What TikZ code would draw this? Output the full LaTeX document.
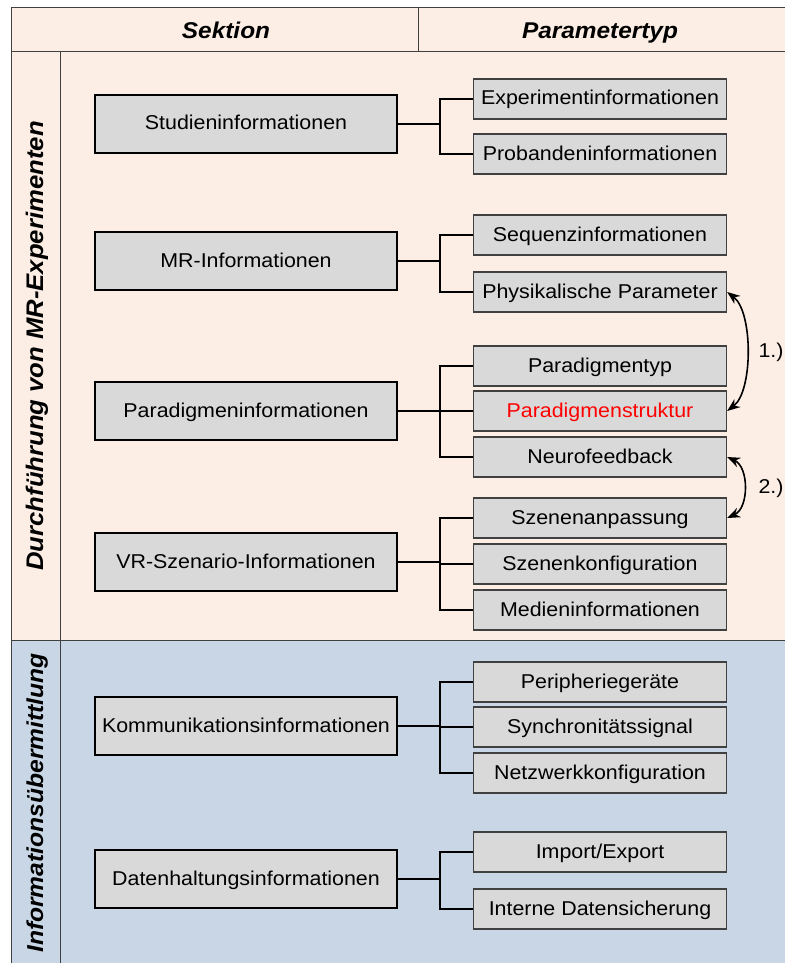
\documentclass[tikz,border=0pt]{standalone}
\usepackage{fontspec}
\setmainfont[FakeStretch=1.07]{Liberation Sans}
\usetikzlibrary{arrows.meta}
\definecolor{peach}{HTML}{FCEEE4}
\definecolor{bluebg}{HTML}{C9D6E6}
\definecolor{boxgray}{HTML}{D9D9D9}
\definecolor{framec}{HTML}{404040}
\tikzset{
  secbox/.style={draw=black, line width=1.8pt, fill=boxgray, minimum width=302pt, minimum height=58pt, inner sep=0pt, text height=16pt, text depth=4pt, font=\fontsize{20}{24}\selectfont},
  parbox/.style={draw=black!75, line width=1.3pt, fill=boxgray, minimum width=253pt, minimum height=40pt, inner sep=0pt, text height=16pt, text depth=4pt, font=\fontsize{20}{24}\selectfont},
  conn/.style={draw=black, line width=1.8pt},
  hdr/.style={font=\fontsize{22.8}{28}\selectfont\bfseries\itshape},
  vhdr/.style={font=\fontsize{24}{28}\selectfont\bfseries\itshape},
  dbl/.style={draw=black, line width=1.6pt, {Stealth[length=13pt,width=10pt]}-{Stealth[length=13pt,width=10pt]}},
  lbl/.style={font=\fontsize{20}{24}\selectfont}
}
\begin{document}
\begin{tikzpicture}[x=1pt,y=-1pt]
\useasboundingbox (0,0) rectangle (785,963);
\fill[white] (0,0) rectangle (785,963);
% backgrounds
\fill[peach] (11,8) rectangle (785,640);
\fill[bluebg] (11,640) rectangle (785,963);
% frame lines
\draw[framec, line width=1pt] (785,8) -- (11,8) -- (11,963);
\draw[framec, line width=1pt] (11,52) -- (785,52);
\draw[framec, line width=1pt] (418,8) -- (418,52);
\draw[framec, line width=1pt] (60,52) -- (60,963);
\draw[framec, line width=1pt] (11,640) -- (785,640);
% headers
\node[hdr, anchor=base] (h1) at (226,38.5) {Sektion};
\node[hdr, anchor=base] (h2) at (600,38.5) {Parametertyp};
\node[vhdr, rotate=90, anchor=base] (v1) at (43,346) {Durchführung von MR-Experimenten};
\node[vhdr, rotate=90, anchor=base, font=\fontsize{23}{28}\selectfont\bfseries\itshape] (v2) at (43,803) {Informationsübermittlung};
% section boxes
\node[secbox] (S1) at (246,124) {Studieninformationen};
\node[secbox] (S2) at (246,261) {MR-Informationen};
\node[secbox] (S3) at (246,411) {Paradigmeninformationen};
\node[secbox] (S4) at (246,562) {VR-Szenario-Informationen};
\node[secbox] (S5) at (246,726) {Kommunikationsinformationen};
\node[secbox] (S6) at (246,879) {Datenhaltungsinformationen};
% parameter boxes
\node[parbox] (P1) at (600,99) {Experimentinformationen};
\node[parbox] (P2) at (600,154) {Probandeninformationen};
\node[parbox] (P3) at (600,235) {Sequenzinformationen};
\node[parbox] (P4) at (600,292) {Physikalische Parameter};
\node[parbox] (P5) at (600,366) {Paradigmentyp};
\node[parbox, text=red] (P6) at (600,411) {Paradigmenstruktur};
\node[parbox] (P7) at (600,457) {Neurofeedback};
\node[parbox] (P8) at (600,518) {Szenenanpassung};
\node[parbox] (P9) at (600,564) {Szenenkonfiguration};
\node[parbox] (P10) at (600,610) {Medieninformationen};
\node[parbox] (P11) at (600,682) {Peripheriegeräte};
\node[parbox] (P12) at (600,727) {Synchronitätssignal};
\node[parbox] (P13) at (600,773) {Netzwerkkonfiguration};
\node[parbox] (P14) at (600,852) {Import/Export};
\node[parbox] (P15) at (600,909) {Interne Datensicherung};
% bus coordinates
\coordinate (b1) at (440,124);
\coordinate (b2) at (440,261);
\coordinate (b3) at (440,411);
\coordinate (b4) at (440,562);
\coordinate (b5) at (440,726);
\coordinate (b6) at (440,879);
% connectors
\draw[conn] (S1.east) -- (b1);
\draw[conn] (b1) |- (P1.west);
\draw[conn] (b1) |- (P2.west);
\draw[conn] (S2.east) -- (b2);
\draw[conn] (b2) |- (P3.west);
\draw[conn] (b2) |- (P4.west);
\draw[conn] (S3.east) -- (b3);
\draw[conn] (b3) |- (P5.west);
\draw[conn] (b3) -- (P6.west);
\draw[conn] (b3) |- (P7.west);
\draw[conn] (S4.east) -- (b4);
\draw[conn] (b4) |- (P8.west);
\draw[conn] (b4) |- (P9.west);
\draw[conn] (b4) |- (P10.west);
\draw[conn] (S5.east) -- (b5);
\draw[conn] (b5) |- (P11.west);
\draw[conn] (b5) |- (P12.west);
\draw[conn] (b5) |- (P13.west);
\draw[conn] (S6.east) -- (b6);
\draw[conn] (b6) |- (P14.west);
\draw[conn] (b6) |- (P15.west);
% curved double arrows
\draw[dbl] (P4.east) .. controls +(26,20) and +(26,-20) .. (P6.east);
\draw[dbl] (P7.east) .. controls +(22,10) and +(22,-10) .. (P8.east);
\node[lbl] (l1) at (771,352) {1.)};
\node[lbl] (l2) at (771,488) {2.)};
\end{tikzpicture}
\end{document}
